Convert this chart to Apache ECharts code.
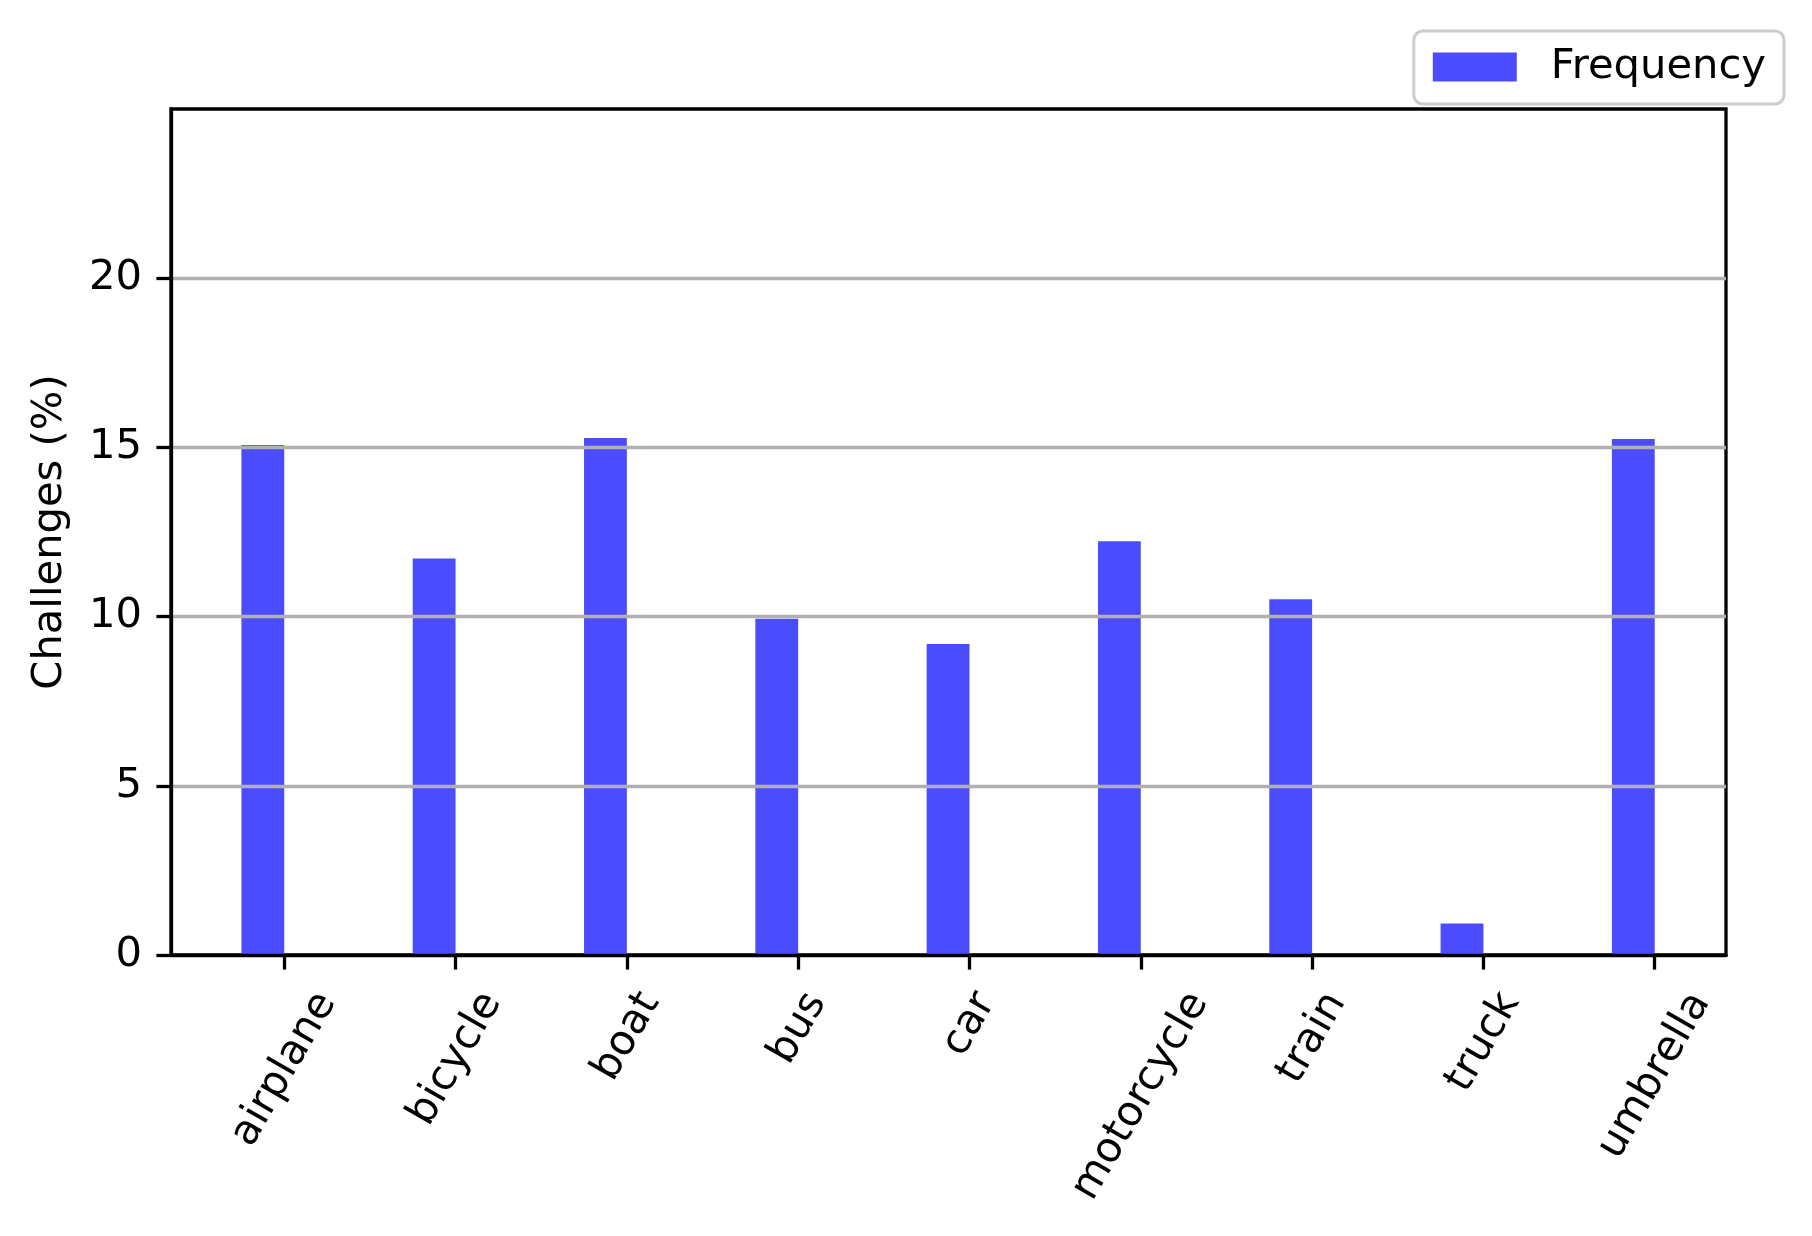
<!DOCTYPE html>
<html>
<head>
<meta charset="utf-8">
<script src="https://cdn.jsdelivr.net/npm/echarts@6/dist/echarts.min.js"></script>
<style>
html,body{margin:0;padding:0;background:#fff;}
#chart{width:1812px;height:1236px;}
</style>
</head>
<body>
<div id="chart"></div>
<script>
const categories = ['airplane', 'bicycle', 'boat', 'bus', 'car', 'motorcycle', 'train', 'truck', 'umbrella'];
const frequency = [15.07, 11.72, 15.28, 9.94, 9.19, 12.23, 10.51, 0.93, 15.25];
const yTicks = [0, 5, 10, 15, 20];
const seriesName = 'Frequency';
const yAxisTitle = 'Challenges (%)';

const FONT = '"DejaVu Sans", Verdana, sans-serif';
const FS = 41.67;
const LW = 3.3;
const BAR_COLOR = '#4c4cff';

// measure label widths to emulate centered rotated tick labels
const ctx = document.createElement('canvas').getContext('2d');
ctx.font = FS + 'px "DejaVu Sans"';
const rich = {};
const TEXT_H = 48;
categories.forEach(function (c, i) {
  const L = ctx.measureText(c).width;
  const D = 0.433 * L + 0.25 * TEXT_H;
  rich['c' + i] = {
    fontSize: FS, fontFamily: FONT, color: '#000',
    padding: [D, 1.732 * D, 0, 0]
  };
});
const catIdx = categories.map(function (c, i) { return i; });

const chart = echarts.init(document.getElementById('chart'), null, {renderer: 'canvas'});
chart.setOption({
  animation: false,
  backgroundColor: '#fff',
  textStyle: {fontFamily: FONT},
  legend: {
    data: [seriesName],
    right: 28,
    top: 31,
    orient: 'horizontal',
    icon: 'rect',
    itemWidth: 84,
    itemHeight: 29,
    padding: [15, 18, 16, 19],
    borderColor: '#cccccc',
    borderWidth: 3,
    borderRadius: 9,
    backgroundColor: 'rgba(255,255,255,0.8)',
    textStyle: {fontSize: FS, fontFamily: FONT, color: '#000', padding: [0, 0, 0, 29]}
  },
  grid: {
    left: 171, right: 86, top: 109, bottom: 281,
    show: true, borderColor: '#000', borderWidth: LW,
    containLabel: false,
    outerBoundsMode: 'none'
  },
  xAxis: {
    type: 'value',
    min: -0.661,
    max: 8.416,
    z: 6,
    axisLine: {show: true, onZero: false, lineStyle: {color: '#000', width: LW}},
    axisTick: {show: true, customValues: catIdx, length: 14.6, lineStyle: {color: '#000', width: LW}},
    splitLine: {show: false},
    axisLabel: {
      show: true,
      customValues: catIdx,
      rotate: 60,
      margin: 29,
      align: 'center',
      verticalAlign: 'middle',
      fontSize: FS, fontFamily: FONT, color: '#000',
      formatter: function (v) {
        const i = Math.round(v);
        return '{c' + i + '|' + categories[i] + '}';
      },
      rich: rich
    }
  },
  yAxis: {
    type: 'value',
    min: 0,
    max: 25,
    interval: 5,
    z: 5,
    name: yAxisTitle,
    nameLocation: 'middle',
    nameRotate: 90,
    nameGap: 100,
    nameTextStyle: {fontSize: FS, fontFamily: FONT, color: '#000'},
    axisLine: {show: true, onZero: false, lineStyle: {color: '#000', width: LW}},
    axisTick: {show: true, customValues: yTicks, length: 14.6, lineStyle: {color: '#000', width: LW}},
    axisLabel: {
      show: true, customValues: yTicks, margin: 29,
      fontSize: FS, fontFamily: FONT, color: '#000',
      formatter: function (v) { return String(v); }
    },
    splitLine: {show: true, showMinLine: false, showMaxLine: true, lineStyle: {color: '#b0b0b0', width: LW}}
  },
  series: [
    {
      name: seriesName,
      type: 'bar',
      barWidth: '25%',
      barGap: '0%',
      itemStyle: {color: BAR_COLOR},
      data: frequency.map(function (v, i) { return [i, v]; })
    },
    {
      name: 'spacer',
      type: 'bar',
      barWidth: '25%',
      barGap: '0%',
      itemStyle: {color: 'rgba(0,0,0,0)'},
      data: frequency.map(function (v, i) { return [i, 0]; })
    }
  ]
});
</script>
</body>
</html>
